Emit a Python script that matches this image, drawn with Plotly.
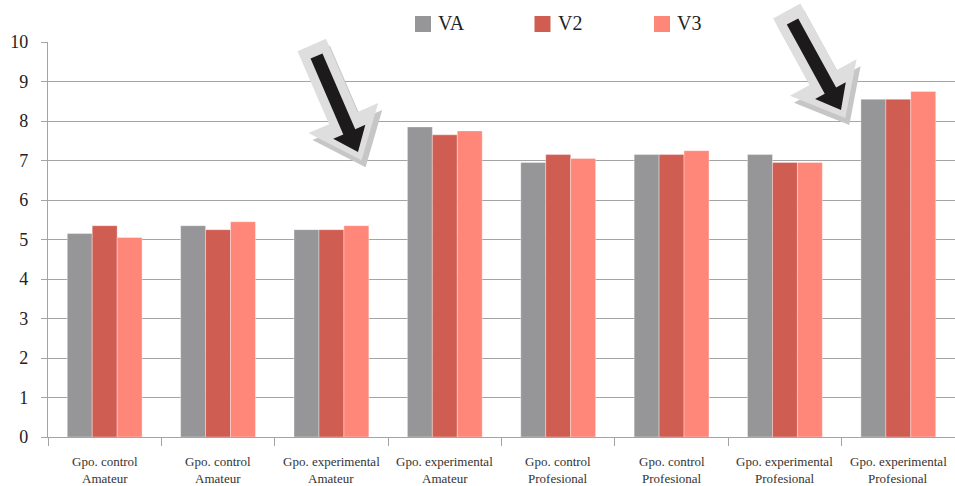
import numpy as np
import plotly.graph_objects as go

# Scores per group and evaluation
groups = ["Gpo. control", "Gpo. control", "Gpo. experimental", "Gpo. experimental",
          "Gpo. control", "Gpo. control", "Gpo. experimental", "Gpo. experimental"]
levels = ["Amateur", "Amateur", "Amateur", "Amateur",
          "Profesional", "Profesional", "Profesional", "Profesional"]
series_names = ["VA", "V2", "V3"]
va = [5.15, 5.35, 5.25, 7.85, 6.95, 7.15, 7.15, 8.55]
v2 = [5.35, 5.25, 5.25, 7.65, 7.15, 7.15, 6.95, 8.55]
v3 = [5.05, 5.45, 5.35, 7.75, 7.05, 7.25, 6.95, 8.75]
colors = ["#969698", "#d05d52", "#fe877a"]
y_ticks = list(range(0, 11))

W, H = 955, 486
ML, MR, MT, MB = 48, 0, 42, 49
PW, PH = W - ML - MR, H - MT - MB
FONT = "Liberation Serif, Times New Roman, serif"
GRID = "#a4a4a4"


def px_to_paper(x, y):
    return (x - ML) / PW, (H - MB - y) / PH


def arrow_path(tail, tip, shaft_hw, head_hw, head_len, back=0.0, fwd=0.0, off=(0, 0)):
    tail = np.array(tail, float) + off
    tip = np.array(tip, float) + off
    u = (tip - tail) / np.linalg.norm(tip - tail)
    n = np.array([-u[1], u[0]])
    tail = tail - u * back
    tip = tip + u * fwd
    base = tip - u * head_len
    pts = [tail + n * shaft_hw, base + n * shaft_hw, base + n * head_hw, tip,
           base - n * head_hw, base - n * shaft_hw, tail - n * shaft_hw]
    coords = [px_to_paper(*p) for p in pts]
    return "M" + " L".join(f"{a:.5f},{b:.5f}" for a, b in coords) + " Z"


x = list(range(len(groups)))
fig = go.Figure()
for name, vals, col in zip(series_names, [va, v2, v3], colors):
    fig.add_trace(go.Bar(
        x=x, y=vals, name=name, marker_color=col,
        marker_line=dict(color="rgba(255,255,255,0.35)", width=1),
        showlegend=False,
    ))

shapes = []
# decorative pointer arrows
for tail, tip in [((316.5, 56), (358, 152)), ((792.5, 21.5), (841, 110))]:
    shapes.append(dict(type="path", xref="paper", yref="paper", layer="above",
                       path=arrow_path(tail, tip, 15.5, 38, 46, back=12, fwd=9, off=(4, 7)),
                       fillcolor="#c6c6c6", line=dict(width=0)))
    shapes.append(dict(type="path", xref="paper", yref="paper", layer="above",
                       path=arrow_path(tail, tip, 15.5, 38, 46, back=12, fwd=9),
                       fillcolor="#dedede", line=dict(width=0)))
    shapes.append(dict(type="path", xref="paper", yref="paper", layer="above",
                       path=arrow_path(tail, tip, 6.5, 17.5, 22),
                       fillcolor="#1c1a1a", line=dict(width=0)))

annotations = []
# legend
for i, (name, col) in enumerate(zip(series_names, colors)):
    sx = 415 + 119.5 * i
    x0, y0 = px_to_paper(sx, 32)
    x1, y1 = px_to_paper(sx + 16, 16)
    shapes.append(dict(type="rect", xref="paper", yref="paper", x0=x0, y0=y0, x1=x1, y1=y1,
                       fillcolor=col, line=dict(width=0)))
    tx, ty = px_to_paper(sx + 21, 23)
    annotations.append(dict(text=name, xref="paper", yref="paper", x=tx, y=ty,
                            xanchor="left", yanchor="middle", showarrow=False,
                            font=dict(family=FONT, size=20, color="#222222")))

# two-line category labels
for i, (g, lv) in enumerate(zip(groups, levels)):
    for txt, py in [(g, 461), (lv, 478)]:
        annotations.append(dict(text=txt, xref="x", yref="paper", x=i,
                                y=px_to_paper(0, py)[1], xanchor="center", yanchor="middle",
                                showarrow=False,
                                font=dict(family=FONT, size=13, color="#333333")))

fig.update_layout(
    width=W, height=H, autosize=False,
    margin=dict(l=ML, r=MR, t=MT, b=MB, pad=0),
    paper_bgcolor="white", plot_bgcolor="white",
    barmode="group", bargap=0.34, bargroupgap=0,
    font=dict(family=FONT, color="#222222"),
    shapes=shapes, annotations=annotations,
    xaxis=dict(range=[-0.5, len(groups) - 0.5], tickvals=x, ticktext=[""] * len(x),
               ticks="", showgrid=False, zeroline=False,
               showline=True, linecolor=GRID, linewidth=1.3,
               minor=dict(tickmode="array", tickvals=[i - 0.5 for i in range(len(groups) + 1)],
                          ticks="outside", ticklen=8, tickcolor=GRID, tickwidth=1.3,
                          showgrid=False)),
    yaxis=dict(range=[0, 10], tickvals=y_ticks, ticks="outside", ticklen=6,
               tickcolor=GRID, tickwidth=1.3, showgrid=True, gridcolor=GRID, gridwidth=1.3,
               zeroline=False, showline=True, linecolor=GRID, linewidth=1.3,
               ticklabelstandoff=9, tickfont=dict(family=FONT, size=18, color="#222222")),
)

fig.write_html("out.html")
